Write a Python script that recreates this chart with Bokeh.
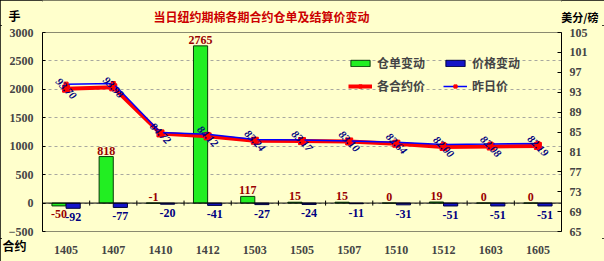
from bokeh.plotting import figure
from bokeh.layouts import column
from bokeh.models import (Range1d, LinearAxis, FactorRange, ColumnDataSource, Label,
                          Legend, LegendItem, Span, FixedTicker)
from bokeh.transform import dodge
from bokeh.embed import file_html
from bokeh.resources import INLINE
from bokeh.core.properties import value

# ---- data ----
contracts = ["1405", "1407", "1410", "1412", "1503", "1505", "1507", "1510", "1512", "1603", "1605"]
receipt_change = [-50, 818, -1, 2765, 117, 15, 15, 0, 19, 0, 0]
price_change = [-92, -77, -20, -41, -27, -24, -11, -31, -51, -51, -51]
settle_price = [93.70, 93.98, 84.72, 84.12, 83.24, 83.17, 83.10, 82.64, 82.00, 82.08, 82.19]
prev_price = [94.62, 94.75, 84.92, 84.53, 83.51, 83.41, 83.21, 82.95, 82.51, 82.59, 82.70]
left_ticks = [-500, 0, 500, 1000, 1500, 2000, 2500, 3000]
right_ticks = [65, 69, 73, 77, 81, 85, 89, 93, 97, 101, 105]

title_text = "当日纽约期棉各期合约仓单及结算价变动"
left_unit = "手"
right_unit = "美分/磅"
cat_name = "合约"
legend_labels = ["仓单变动", "价格变动", "各合约价", "昨日价"]

BG = "#FFFFCC"
NUM_FONT = "Liberation Serif"
CJK_FONT = "Noto Sans CJK SC"
W = 604
HEAD_H = 25
FOOT_H = 23
MAIN_H = 261 - HEAD_H - FOOT_H


def cjk_label(txt, x, y, color, align, size="12px"):
    # canvas units: origin at the figure canvas' top-left corner
    return Label(x=x, y=y, x_units="canvas", y_units="canvas", text=txt, text_color=color,
                 text_align=align, text_baseline="middle", text_font=CJK_FONT,
                 text_font_style="bold", text_font_size=size)


# ---------- header (title + units) ----------
head = figure(width=W, height=HEAD_H, x_range=Range1d(0, 1), y_range=Range1d(0, 1),
              x_axis_location=None, y_axis_location=None, output_backend="svg",
              toolbar_location=None, min_border_left=42, min_border_right=43,
              min_border_top=0, min_border_bottom=0)
head.grid.visible = False
head.outline_line_color = None
head.background_fill_color = BG
head.border_fill_color = BG
head.add_layout(cjk_label(title_text, 261, 16, "#CC0000", "center"))
head.add_layout(cjk_label(left_unit, 8, 15, "black", "left"), "left")
head.add_layout(cjk_label(right_unit, 598, 16, "black", "right", "11px"), "right")

# ---------- main chart ----------
p = figure(width=W, height=MAIN_H, x_range=FactorRange(*contracts),
           y_range=Range1d(left_ticks[0], left_ticks[-1]), x_axis_location=None,
           output_backend="svg", toolbar_location=None,
           min_border_left=42, min_border_right=43, min_border_top=7, min_border_bottom=7)
p.background_fill_color = BG
p.border_fill_color = BG
p.outline_line_color = "#8A8A70"

p.extra_y_ranges = {"price": Range1d(right_ticks[0], right_ticks[-1])}

yax = p.yaxis[0]
yax.ticker = FixedTicker(ticks=left_ticks)
yax.major_tick_in = 3
yax.major_tick_out = 0
yax.minor_tick_line_color = None
yax.major_label_standoff = 9
yax.major_label_text_font = NUM_FONT
yax.major_label_text_font_style = "bold"
yax.major_label_text_font_size = "12px"
yax.axis_line_color = "black"

rax = LinearAxis(y_range_name="price", ticker=FixedTicker(ticks=right_ticks))
rax.major_tick_in = 4
rax.major_tick_out = 0
rax.minor_tick_line_color = None
rax.major_label_standoff = 8
rax.major_label_text_font = NUM_FONT
rax.major_label_text_font_style = "bold"
rax.major_label_text_font_size = "12px"
rax.axis_line_color = "black"
p.add_layout(rax, "right")

p.xgrid.visible = False
p.ygrid.ticker = FixedTicker(ticks=left_ticks[1:-1])
p.ygrid.grid_line_dash = "3 3"
p.ygrid.grid_line_color = "#A8A8A0"

src = ColumnDataSource(dict(
    cat=contracts, rc=receipt_change, pc=price_change, sp=settle_price, pp=prev_price,
    sp_lbl=[f"{v:.2f}" for v in settle_price],
    rc_lbl=[str(v) for v in receipt_change],
    pc_lbl=[str(v) for v in price_change],
    rc_base=["top" if v < -10 else "bottom" for v in receipt_change],
    rc_off=[4 if v < -10 else -2 for v in receipt_change],
))

g = p.vbar(x=dodge("cat", -0.15, range=p.x_range), top="rc", bottom=0, width=0.3,
           source=src, fill_color="#22EE22", line_color="#0A3A0A", line_width=1)
b = p.vbar(x=dodge("cat", 0.15, range=p.x_range), top="pc", bottom=0, width=0.3,
           source=src, fill_color="#1414C8", line_color="#000040", line_width=1)

p.add_layout(Span(location=0, dimension="width", line_color="black", line_width=1))
tick_src = ColumnDataSource(dict(cat=contracts[:-1]))
p.scatter(x=dodge("cat", 0.5, range=p.x_range), y=0, source=tick_src, marker="dash",
          angle=1.5708, size=5, line_color="black")

red = p.line("cat", "sp", source=src, y_range_name="price", line_color="#FF0000", line_width=4)
red_m = p.scatter("cat", "sp", source=src, y_range_name="price", marker="square", size=7,
                  fill_color="#FF0000", line_color="#FF0000")
blue = p.line("cat", "pp", source=src, y_range_name="price", line_color="#0000FF", line_width=1.5)
blue_m = p.scatter("cat", "pp", source=src, y_range_name="price", marker="square", size=4,
                   fill_color="#FF0000", line_color="#FF0000")

p.text(x="cat", y="sp", text="sp_lbl", source=src, y_range_name="price", angle=-0.8,
       text_align="center", text_baseline="middle", text_color="#000080",
       text_font=value(NUM_FONT), text_font_style="bold italic", text_font_size="11px")

p.text(x=dodge("cat", -0.15, range=p.x_range), y="rc", text="rc_lbl", source=src,
       text_align="center", text_baseline="rc_base", y_offset="rc_off",
       text_color="#990000", text_font=value(NUM_FONT), text_font_style="bold",
       text_font_size="12px")
p.text(x=dodge("cat", 0.15, range=p.x_range), y="pc", text="pc_lbl", source=src,
       text_align="center", text_baseline="top", y_offset=5,
       text_color="#000080", text_font=value(NUM_FONT), text_font_style="bold",
       text_font_size="12px")

legend = Legend(items=[
    LegendItem(label=legend_labels[0], renderers=[g]),
    LegendItem(label=legend_labels[1], renderers=[b]),
    LegendItem(label=legend_labels[2], renderers=[red, red_m]),
    LegendItem(label=legend_labels[3], renderers=[blue, blue_m]),
], location=(306, 137), orientation="horizontal", ncols=2,
    background_fill_alpha=0, border_line_color=None,
    glyph_width=24, glyph_height=8, label_standoff=5, label_width=60, spacing=6, padding=4,
    label_text_font=CJK_FONT, label_text_font_style="bold", label_text_font_size="12px")
p.add_layout(legend)

# ---------- footer (category axis + its name) ----------
foot = figure(width=W, height=FOOT_H, x_range=p.x_range, y_range=Range1d(0, 1),
              y_axis_location=None, x_axis_location="below", output_backend="svg",
              toolbar_location=None, min_border_left=42, min_border_right=43,
              min_border_top=0, min_border_bottom=FOOT_H - 1)
foot.grid.visible = False
foot.outline_line_color = None
foot.background_fill_color = BG
foot.border_fill_color = BG
xax = foot.xaxis[0]
xax.axis_line_color = None
xax.major_tick_line_color = None
xax.major_label_standoff = 0
xax.major_label_text_font = NUM_FONT
xax.major_label_text_font_style = "bold"
xax.major_label_text_font_size = "12px"
foot.add_layout(cjk_label(cat_name, 2, 7, "black", "left"), "left")

layout = column(head, p, foot, spacing=0,
                styles={"outline": "2px solid black", "outline-offset": "-2px",
                        "background-color": BG})

open("out.html", "w").write(file_html(layout, INLINE))
